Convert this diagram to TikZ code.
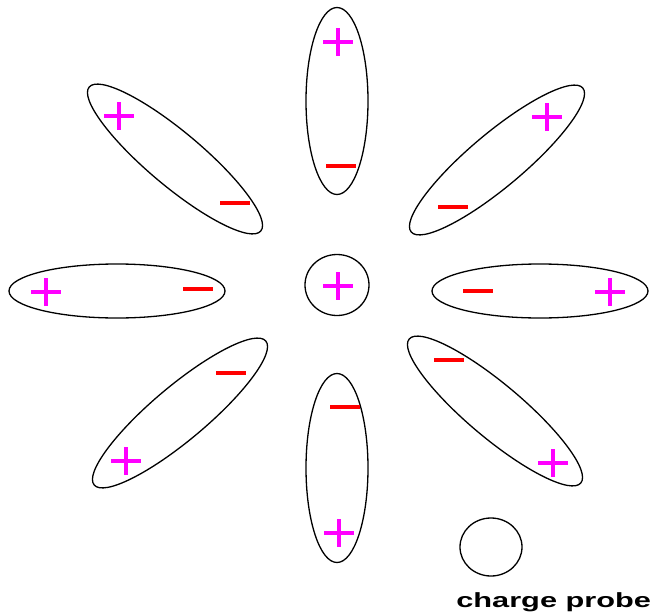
\documentclass[tikz,border=0pt]{standalone}
\usepackage{fontspec}
\setmainfont{Liberation Sans}
\usetikzlibrary{shapes.geometric}
\tikzset{
  dipole/.style={draw=black, line width=1.3pt, ellipse, inner sep=0pt},
  plusline/.style={draw={rgb,255:red,255;green,0;blue,255}, line width=3.6pt},
  minusline/.style={draw=red, line width=3.6pt},
  lbl/.style={font=\bfseries\fontsize{20.5}{22}\selectfont, inner sep=0pt, xscale=1.5}
}
\newcommand\pluss[2]{\draw[plusline] ({#1-15},#2) -- ({#1+15},#2) (#1,{#2-14}) -- (#1,{#2+14});}
\newcommand\minuss[2]{\draw[minusline] ({#1-15},#2) -- ({#1+15},#2);}
\begin{document}
\begin{tikzpicture}[x=1pt,y=-1pt]
\useasboundingbox (0,0) rectangle (651,616);
% dipoles
\node[dipole, minimum width=62pt, minimum height=187pt] (top) at (337,101) {};
\node[dipole, minimum width=62pt, minimum height=189pt] (bot) at (337,468) {};
\node[dipole, minimum width=216pt, minimum height=54pt] (left) at (117,291) {};
\node[dipole, minimum width=216pt, minimum height=54pt] (right) at (540,291) {};
\node[dipole, minimum width=224pt, minimum height=54pt, rotate=-40] (ul) at (175,159) {};
\node[dipole, minimum width=224pt, minimum height=54pt, rotate=40] (ur) at (497,160) {};
\node[dipole, minimum width=224pt, minimum height=54pt, rotate=40] (ll) at (180,413) {};
\node[dipole, minimum width=224pt, minimum height=54pt, rotate=-40] (lr) at (495,411) {};
% centre charge
\node[dipole, minimum width=64pt, minimum height=61pt] (centre) at (337,285) {};
% probe
\node[dipole, minimum width=62pt, minimum height=58pt] (probe) at (491,547) {};
\node[lbl, anchor=base west] (probelbl) at (456,607) {charge probe};
% signs
\pluss{338}{42}  \minuss{341}{166}
\pluss{119}{116} \minuss{235}{203}
\pluss{547}{117} \minuss{453}{207}
\pluss{46}{292}  \minuss{198}{289}
\pluss{338}{286}
\minuss{478}{291} \pluss{610}{292}
\minuss{231}{373} \pluss{126}{461}
\minuss{449}{360} \pluss{553}{463}
\minuss{345}{407} \pluss{339}{533}
\end{tikzpicture}
\end{document}
